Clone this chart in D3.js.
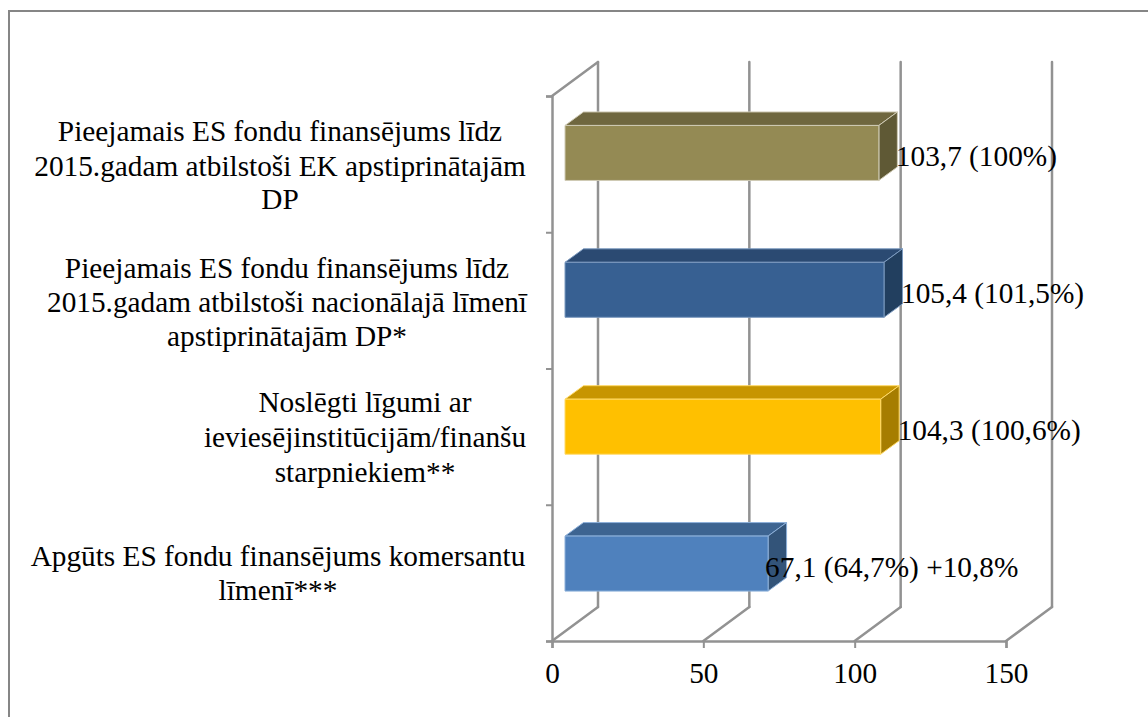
<!DOCTYPE html>
<html>
<head>
<meta charset="utf-8">
<script src="https://cdn.jsdelivr.net/npm/d3@7"></script>
<style>
  html, body { margin: 0; padding: 0; background: #fff; overflow: hidden; }
  text { font-family: "Liberation Serif", serif; fill: #000; }
</style>
</head>
<body>
<div id="chart"></div>
<script>
const categories = [
  ['Pieejamais ES fondu finansējums līdz', '2015.gadam atbilstoši EK apstiprinātajām', 'DP'],
  ['Pieejamais ES fondu finansējums līdz', '2015.gadam atbilstoši nacionālajā līmenī', 'apstiprinātajām DP*'],
  ['Noslēgti līgumi ar', 'ieviesējinstitūcijām/finanšu', 'starpniekiem**'],
  ['Apgūts ES fondu finansējums komersantu', 'līmenī***']
];
const values = [103.7, 105.4, 104.3, 67.1];
const valueLabels = ['103,7 (100%)', '105,4 (101,5%)', '104,3 (100,6%)', '67,1 (64,7%) +10,8%'];
const xTicks = [0, 50, 100, 150];

const frontColors = ['#948a54', '#376092', '#ffc000', '#4f81bd'];
const topColors   = ['#6f673f', '#2b4a72', '#c79500', '#3d6491'];
const sideColors  = ['#5f5935', '#223f5f', '#a67d00', '#335479'];
const edgeColors  = ['#cfcab4', '#7d9bc0', '#ffd966', '#8db0da'];

// centre of each label block, the original text boxes are not all aligned
const labelCenters = [280, 287, 365, 278];
const labelBaselines = [[141, 176, 209], [278, 312, 346], [412, 447, 482], [566, 600]];

const W = 1148, H = 717;
const M = { top: 96, right: 142, bottom: 76, left: 552 };
const depth = { x: 46, y: -34 };
const barDepth = { x: 18.5, y: -13.5 };
const barInset = { x: 13, y: -11 };
const barH = 55;
const GRID = '#929292';
const FONT = 29.3;

const svg = d3.select('#chart').append('svg').attr('width', W).attr('height', H);

// outer frame runs off the right and bottom of the picture
svg.append('rect').attr('x', 9).attr('y', 11).attr('width', W).attr('height', H)
  .attr('fill', '#fff').attr('stroke', '#868686').attr('stroke-width', 2);

const y0 = H - M.bottom;
const x = d3.scaleLinear().domain([0, 150]).range([M.left, W - M.right]);
const y = d3.scaleBand().domain(d3.range(categories.length)).range([M.top - 0.5, y0 + 2]);
const yEdge = d3.scaleLinear().domain([categories.length, 0]).range([M.top, y0]);

function gridLine(x1, y1, x2, y2) {
  svg.append('line').attr('x1', x1).attr('y1', y1).attr('x2', x2).attr('y2', y2)
    .attr('stroke', GRID).attr('stroke-width', 2.5).attr('stroke-linecap', 'round');
}

// back wall and floor lines
xTicks.forEach(t => {
  gridLine(x(t) + depth.x, M.top + depth.y, x(t) + depth.x, y0 + depth.y);
  gridLine(x(t), y0, x(t) + depth.x, y0 + depth.y);
});
gridLine(x(0), M.top, x(0) + depth.x, M.top + depth.y);

// axes
const axisX = svg.append('g').attr('transform', `translate(0,${y0})`)
  .call(d3.axisBottom(x).tickValues(xTicks).tickSize(7).tickPadding(14));
axisX.selectAll('text').attr('font-size', FONT).style('font-family', '"Liberation Serif", serif').attr('fill', '#000');

const axisY = svg.append('g').attr('transform', `translate(${x(0)},0)`)
  .call(d3.axisLeft(yEdge).ticks(categories.length).tickSize(6).tickFormat(''));

[axisX, axisY].forEach(a => {
  a.select('.domain').attr('stroke', GRID).attr('stroke-width', 2.5);
  a.selectAll('.tick line').attr('stroke', GRID).attr('stroke-width', 2);
});

// bars
values.forEach((v, i) => {
  const bx0 = x(0) + barInset.x;
  const bx1 = bx0 + x(v) - x(0);
  const by0 = y(i) + y.bandwidth() / 2 - barH / 2 + barInset.y;
  const by1 = by0 + barH;
  const g = svg.append('g').attr('stroke', edgeColors[i]).attr('stroke-width', 1).attr('stroke-linejoin', 'round');
  g.append('polygon').attr('fill', topColors[i])
    .attr('points', [[bx0, by0], [bx1, by0], [bx1 + barDepth.x, by0 + barDepth.y], [bx0 + barDepth.x, by0 + barDepth.y]].join(' '));
  g.append('polygon').attr('fill', sideColors[i])
    .attr('points', [[bx1, by0], [bx1 + barDepth.x, by0 + barDepth.y], [bx1 + barDepth.x, by1 + barDepth.y], [bx1, by1]].join(' '));
  g.append('rect').attr('fill', frontColors[i])
    .attr('x', bx0).attr('y', by0).attr('width', bx1 - bx0).attr('height', barH);

  // last label sits back over the bar end
  svg.append('text').attr('x', i === 3 ? bx1 - 3 : bx1 + 17).attr('y', by0 + 40.5)
    .attr('font-size', FONT).text(valueLabels[i]);
});

// category labels
categories.forEach((lines, i) => {
  lines.forEach((line, j) => {
    svg.append('text').attr('x', labelCenters[i]).attr('y', labelBaselines[i][j])
      .attr('text-anchor', 'middle').attr('font-size', FONT).text(line);
  });
});
</script>
</body>
</html>
